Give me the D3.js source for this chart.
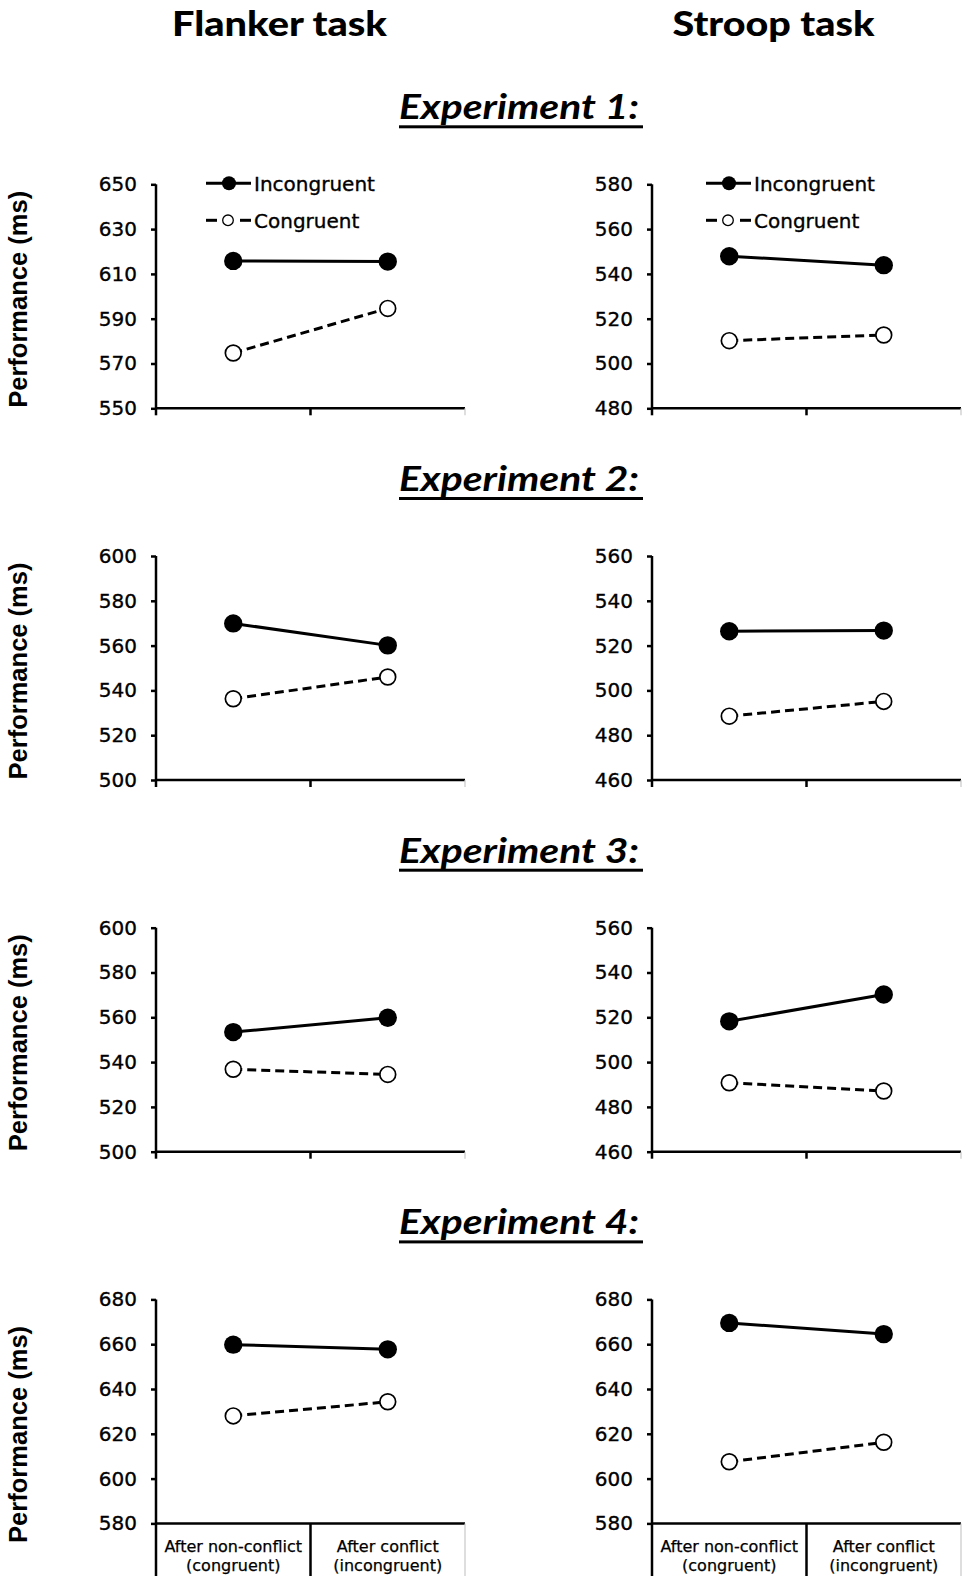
<!DOCTYPE html>
<html>
<head>
<meta charset="utf-8">
<script src="https://cdn.jsdelivr.net/npm/d3@7"></script>
<style>body{margin:0;background:#fff}</style>
</head>
<body>
<svg id="c" width="970" height="1588"></svg>
<script>
// ---------- data ----------
const tasks = ["Flanker task", "Stroop task"];
const experiments = ["Experiment 1:", "Experiment 2:", "Experiment 3:", "Experiment 4:"];
const seriesNames = ["Incongruent", "Congruent"];
const conditionNames = ["After non-conflict (congruent)", "After conflict (incongruent)"];
const conditionLines = [["After non-conflict", "(congruent)"], ["After conflict", "(incongruent)"]];
const yAxisTitle = "Performance  (ms)";

const flankerDomains = [[550, 650], [500, 600], [500, 600], [580, 680]];
const stroopDomains  = [[480, 580], [460, 560], [460, 560], [580, 680]];
const flankerTicks = [
  [550, 570, 590, 610, 630, 650],
  [500, 520, 540, 560, 580, 600],
  [500, 520, 540, 560, 580, 600],
  [580, 600, 620, 640, 660, 680]
];
const stroopTicks = [
  [480, 500, 520, 540, 560, 580],
  [460, 480, 500, 520, 540, 560],
  [460, 480, 500, 520, 540, 560],
  [580, 600, 620, 640, 660, 680]
];
const flankerIncongruent = [[615.8, 615.5], [569.9, 560.1], [553.4, 559.8], [659.8, 657.7]];
const flankerCongruent   = [[574.7, 594.6], [536.3, 546.0], [536.8, 534.5], [628.0, 634.3]];
const stroopIncongruent  = [[547.9, 543.9], [526.4, 526.7], [518.2, 530.2], [669.5, 664.5]];
const stroopCongruent    = [[510.2, 512.7], [488.5, 495.1], [490.8, 487.1], [607.5, 616.2]];

// ---------- layout ----------
const W = 970, H = 1588;
const rowTop0 = 184.3, rowStep = 371.7, plotH = 224;
const bottomLineEnd = 1576;
const cols = [
  {x0: 156, x1: 465, dom: flankerDomains, ticks: flankerTicks, inc: flankerIncongruent, con: flankerCongruent, legendX: 206, titleX: 279.5, titleLen: 215},
  {x0: 652, x1: 961, dom: stroopDomains, ticks: stroopTicks, inc: stroopIncongruent, con: stroopCongruent, legendX: 706, titleX: 773.5, titleLen: 202}
];
const tickFont = "'DejaVu Sans', sans-serif";
const titleFont = "Lato, 'Open Sans', sans-serif";

const svg = d3.select("#c");
svg.append("rect").attr("width", W).attr("height", H).attr("fill", "#fff");

// column titles
cols.forEach((c, ci) => {
  svg.append("text")
    .attr("x", c.titleX).attr("y", 36)
    .attr("text-anchor", "middle")
    .attr("font-family", titleFont).attr("font-weight", 900)
    .attr("font-size", 35)
    .attr("textLength", c.titleLen).attr("lengthAdjust", "spacingAndGlyphs")
    .text(tasks[ci]);
});

experiments.forEach((e, r) => {
  const top = rowTop0 + r * rowStep;
  const base = top - 65;
  svg.append("text")
    .attr("x", 519).attr("y", base)
    .attr("text-anchor", "middle")
    .attr("font-family", titleFont).attr("font-weight", 700).attr("font-style", "italic")
    .attr("font-size", 34)
    .attr("textLength", 240).attr("lengthAdjust", "spacingAndGlyphs")
    .text(e);
  svg.append("rect").attr("x", 399).attr("y", base + 6).attr("width", 244).attr("height", 3).attr("fill", "#000");

  cols.forEach((c, ci) => {
    const bottom = top + plotH;
    const y = d3.scaleLinear().domain(c.dom[r]).range([bottom, top]);
    const x = d3.scaleBand().domain(conditionNames).range([c.x0, c.x1]);
    const g = svg.append("g");

    // y axis
    const yg = g.append("g").attr("transform", `translate(${c.x0},0)`)
      .call(d3.axisLeft(y).tickValues(c.ticks[r]).tickSize(5).tickSizeOuter(0).tickPadding(14));
    yg.select(".domain").remove();
    yg.selectAll(".tick line").attr("stroke", "#000").attr("stroke-width", 2.5);
    yg.selectAll(".tick text").attr("font-family", tickFont).attr("font-size", 20)
      .attr("fill", "#000").attr("stroke", "#000").attr("stroke-width", 0.35);

    const last = r === experiments.length - 1;
    const tickEnd = last ? bottomLineEnd : bottom + 7;

    g.append("line").attr("x1", c.x0).attr("x2", c.x0).attr("y1", top).attr("y2", tickEnd)
      .attr("stroke", "#000").attr("stroke-width", 2.5);
    g.append("line").attr("x1", c.x0).attr("x2", c.x1).attr("y1", bottom).attr("y2", bottom)
      .attr("stroke", "#000").attr("stroke-width", 2.5);

    const bounds = conditionNames.map(d => x(d) + x.bandwidth());
    bounds.forEach((bx, bi) => {
      const isEnd = bi === bounds.length - 1;
      g.append("line").attr("x1", bx).attr("x2", bx).attr("y1", bottom).attr("y2", tickEnd)
        .attr("stroke", isEnd ? "#c8c8c8" : "#000").attr("stroke-width", isEnd ? 1.2 : 2.5);
    });

    if (last) {
      conditionNames.forEach((cn, k) => {
        const t = g.append("text")
          .attr("x", x(cn) + x.bandwidth() / 2).attr("y", bottom + 28.5)
          .attr("text-anchor", "middle")
          .attr("font-family", tickFont).attr("font-size", 16).attr("fill", "#000")
          .attr("stroke", "#000").attr("stroke-width", 0.25);
        conditionLines[k].forEach((ln, li) => {
          t.append("tspan").attr("x", x(cn) + x.bandwidth() / 2).attr("dy", li === 0 ? 0 : 19).text(ln);
        });
      });
    }

    // lines
    const cx = i => x(conditionNames[i]) + x.bandwidth() / 2;
    const line = d3.line().x((d, i) => cx(i)).y(d => y(d));
    g.append("path").datum(c.con[r]).attr("d", line)
      .attr("fill", "none").attr("stroke", "#000").attr("stroke-width", 3).attr("stroke-dasharray", "9,5");
    g.append("path").datum(c.inc[r]).attr("d", line)
      .attr("fill", "none").attr("stroke", "#000").attr("stroke-width", 3);
    g.selectAll(".inc").data(c.inc[r]).enter().append("circle")
      .attr("cx", (d, i) => cx(i)).attr("cy", d => y(d)).attr("r", 9.2).attr("fill", "#000");
    g.selectAll(".con").data(c.con[r]).enter().append("circle")
      .attr("cx", (d, i) => cx(i)).attr("cy", d => y(d)).attr("r", 7.9)
      .attr("fill", "#fff").attr("stroke", "#000").attr("stroke-width", 1.7);

    // y axis title (left column only)
    if (ci === 0) {
      const cy = (top + bottom) / 2 + (last ? 23 : 3);
      svg.append("text")
        .attr("transform", `translate(27,${cy}) rotate(-90)`)
        .attr("text-anchor", "middle")
        .attr("font-family", "'Liberation Sans', Arial, sans-serif").attr("font-weight", 700)
        .attr("font-size", 25)
        .attr("textLength", 217).attr("lengthAdjust", "spacingAndGlyphs")
        .text(yAxisTitle);
    }

    // legend (first row)
    if (r === 0) {
      const lx = c.legendX;
      const ly1 = top - 1, ly2 = top + 36;
      g.append("line").attr("x1", lx).attr("x2", lx + 45).attr("y1", ly1).attr("y2", ly1)
        .attr("stroke", "#000").attr("stroke-width", 3);
      g.append("circle").attr("cx", lx + 23).attr("cy", ly1).attr("r", 7).attr("fill", "#000");
      g.append("text").attr("x", lx + 48).attr("y", ly1).attr("dy", "0.36em")
        .attr("font-family", tickFont).attr("font-size", 20)
        .attr("stroke", "#000").attr("stroke-width", 0.35).text(seriesNames[0]);

      [[lx, lx + 11], [lx + 34, lx + 45]].forEach(s => {
        g.append("line").attr("x1", s[0]).attr("x2", s[1]).attr("y1", ly2).attr("y2", ly2)
          .attr("stroke", "#000").attr("stroke-width", 3);
      });
      g.append("circle").attr("cx", lx + 22).attr("cy", ly2).attr("r", 5.3)
        .attr("fill", "#fff").attr("stroke", "#000").attr("stroke-width", 1.3);
      g.append("text").attr("x", lx + 48).attr("y", ly2).attr("dy", "0.36em")
        .attr("font-family", tickFont).attr("font-size", 20)
        .attr("stroke", "#000").attr("stroke-width", 0.35).text(seriesNames[1]);
    }
  });
});
</script>
</body>
</html>
